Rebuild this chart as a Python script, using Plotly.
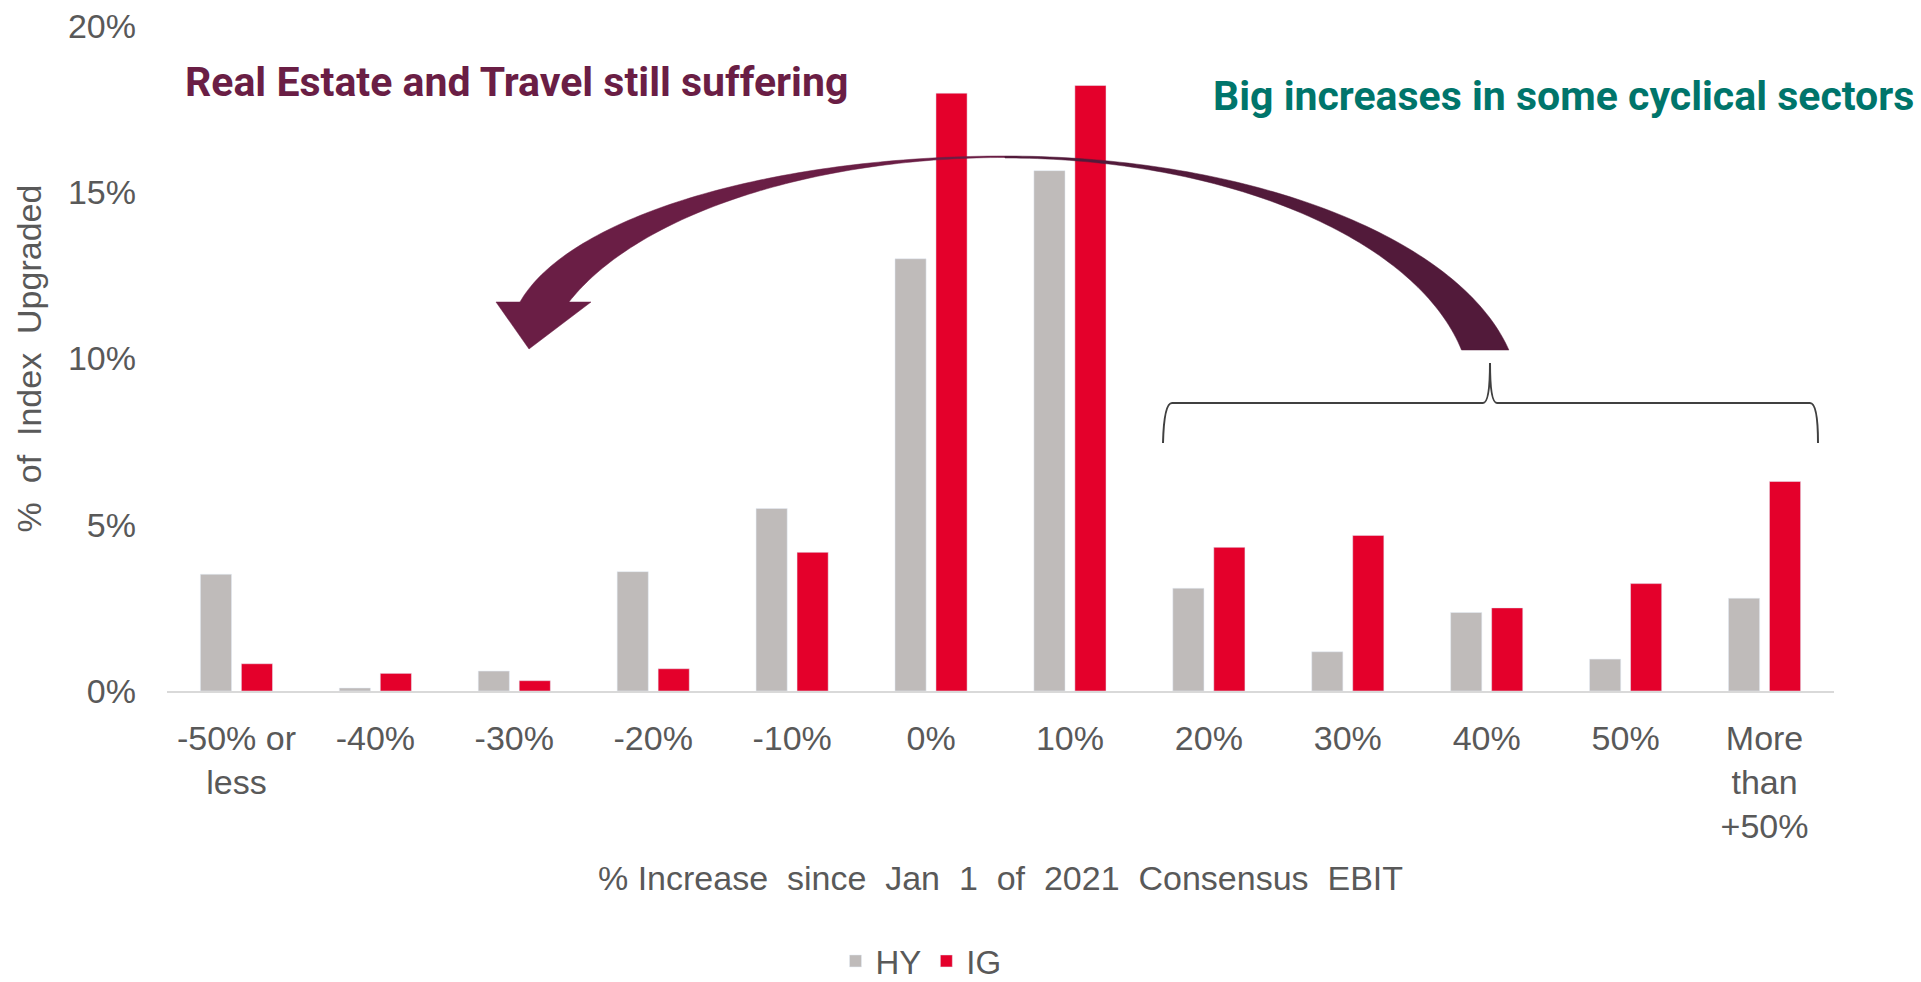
import numpy as np
import plotly.graph_objects as go

# ---- data -------------------------------------------------------------
categories = ["-50% or<br>less", "-40%", "-30%", "-20%", "-10%", "0%", "10%",
              "20%", "30%", "40%", "50%", "More<br>than<br>+50%"]
hy_share = [3.51, 0.09, 0.60, 3.59, 5.49, 13.0, 15.65, 3.09, 1.18, 2.36, 0.96, 2.79]
ig_share = [0.82, 0.53, 0.31, 0.67, 4.17, 17.98, 18.21, 4.32, 4.68, 2.50, 3.23, 6.30]
y_ticks = [0, 5, 10, 15, 20]
y_tick_text = ["0%", "5%", "10%", "15%", "20%"]

# ---- page geometry ----------------------------------------------------
W, H = 1921, 982
ML, MR, MT, MB = 167, 87, 26, 291
PW, PH = W - ML - MR, H - MT - MB

GREY = "#bfbbba"
RED = "#e4002b"
PLUM = "#6a1e45"
PLUM_DARK = "#521a3a"
TEAL = "#00756b"
TEXT = "#595959"
FONT = "Liberation Sans, Arial, sans-serif"
HEAD_FONT = "Roboto, Liberation Sans, Arial, sans-serif"
TICK_SIZE = 34


def to_paper(x, y):
    """Pixel position on the page -> paper coordinates of the plot area."""
    return (x - ML) / PW, (H - MB - y) / PH


def polygon_path(pts):
    pp = [to_paper(x, y) for x, y in pts]
    return "M" + "L".join(f"{x:.5f},{y:.5f}" for x, y in pp) + "Z"


def ellipse_arc(cx, cy, a, b, y_end, side, n=80, reverse=False):
    """Upper half-ellipse from its top point down to height y_end on one side."""
    phi_end = np.arccos((cy - y_end) / b)
    phi = np.linspace(0, phi_end, n)
    xs = cx + side * a * np.sin(phi)
    ys = cy - b * np.cos(phi)
    pts = list(zip(xs, ys))
    return pts[::-1] if reverse else pts


# ---- curved arrow (right bracket -> left side) --------------------------
ARC_X = 1005          # where the sweep is thinnest
BASE_L, BASE_R = 302, 350

left_outer = ellipse_arc(ARC_X, 340, 495.7, 184, BASE_L, -1)
left_inner = ellipse_arc(ARC_X, 380, 465.6, 222.5, BASE_L, -1, reverse=True)
head = [(496, BASE_L), (529, 349), (591, BASE_L)]
right_outer = ellipse_arc(ARC_X, 400, 514.8, 244, BASE_R, +1)
right_inner = ellipse_arc(ARC_X, 400, 466.6, 242, BASE_R, +1, reverse=True)

left_piece = left_outer + head + left_inner
right_piece = right_outer + right_inner

# ---- brace over the upper buckets -------------------------------------
def p(x, y):
    a, b = to_paper(x, y)
    return f"{a:.5f},{b:.5f}"

brace = (f"M{p(1163, 443)} Q{p(1164, 403)} {p(1172, 403)} L{p(1483, 403)} "
         f"Q{p(1490, 403)} {p(1490, 363)} Q{p(1490, 403)} {p(1497, 403)} "
         f"L{p(1810, 403)} Q{p(1818, 403)} {p(1818, 443)}")

# ---- figure -----------------------------------------------------------
fig = go.Figure()
fig.add_trace(go.Bar(name="HY", x=categories, y=hy_share, marker_color=GREY))
fig.add_trace(go.Bar(name="IG", x=categories, y=ig_share, marker_color=RED))

shapes = [
    dict(type="path", xref="paper", yref="paper", path=polygon_path(left_piece),
         fillcolor=PLUM, line=dict(color=PLUM, width=0.5), layer="above"),
    dict(type="path", xref="paper", yref="paper", path=polygon_path(right_piece),
         fillcolor=PLUM_DARK, line=dict(color=PLUM_DARK, width=0.5), layer="above"),
    dict(type="path", xref="paper", yref="paper", path=brace,
         line=dict(color="#404040", width=2), layer="above"),
]

rx, ry = to_paper(516, 82)
bx, by = to_paper(1563, 96)
annotations = [
    dict(text="Real Estate and Travel still suffering", x=rx, y=ry,
         xref="paper", yref="paper", xanchor="center", yanchor="middle",
         showarrow=False,
         font=dict(family=HEAD_FONT, size=41, color=PLUM, weight="bold")),
    dict(text="Big increases in some cyclical sectors", x=bx, y=by,
         xref="paper", yref="paper", xanchor="center", yanchor="middle",
         showarrow=False,
         font=dict(family=HEAD_FONT, size=41, color=TEAL, weight="bold")),
]

lx, ly = to_paper(921, 961)

fig.update_layout(
    width=W, height=H,
    margin=dict(l=ML, r=MR, t=MT, b=MB, autoexpand=False),
    paper_bgcolor="white", plot_bgcolor="white",
    barmode="group", bargap=0.41, bargroupgap=0.24,
    font=dict(family=FONT, size=TICK_SIZE, color=TEXT),
    showlegend=True,
    legend=dict(orientation="h", x=lx, y=ly, xanchor="center", yanchor="middle",
                font=dict(family=FONT, size=33, color=TEXT),
                bgcolor="rgba(0,0,0,0)"),
    shapes=shapes,
    annotations=annotations,
    xaxis=dict(
        type="category",
        showgrid=False, showline=True, linecolor="#d9d9d9", linewidth=2,
        ticks="", tickfont=dict(family=FONT, size=TICK_SIZE, color=TEXT),
        ticklabelstandoff=16,
        title=dict(text="% Increase  since  Jan  1  of  2021  Consensus  EBIT",
                   font=dict(family=FONT, size=TICK_SIZE, color=TEXT), standoff=22),
        automargin=False,
    ),
    yaxis=dict(
        range=[0, 20], tickmode="array", tickvals=y_ticks, ticktext=y_tick_text,
        showgrid=False, showline=False, zeroline=False, ticks="",
        tickfont=dict(family=FONT, size=TICK_SIZE, color=TEXT),
        ticklabelstandoff=30,
        title=dict(text="%  of  Index  Upgraded",
                   font=dict(family=FONT, size=TICK_SIZE, color=TEXT), standoff=16),
        automargin=False,
    ),
)

fig.write_html("out.html")
